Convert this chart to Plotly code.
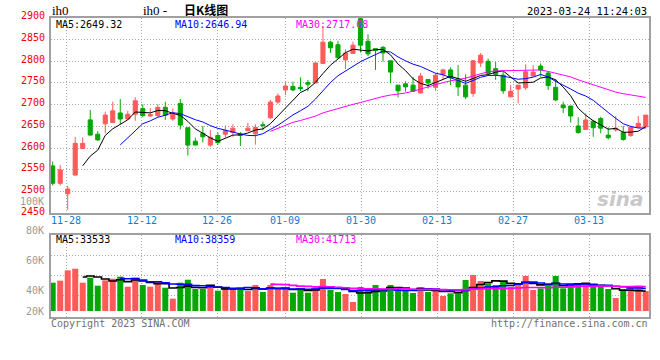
import plotly.graph_objects as go
import pandas as pd

# ---------------- data ----------------
opens = [2559, 2519, 2495, 2538, 2599, 2665, 2632, 2656, 2659, 2681,
         2667, 2678, 2691, 2674, 2675, 2694, 2667, 2703, 2647, 2616,
         2634, 2607, 2629, 2632, 2636, 2633, 2640, 2633, 2654, 2670,
         2706, 2734, 2742, 2740, 2751, 2750, 2795, 2844, 2838, 2803,
         2818, 2898, 2846, 2829, 2832, 2801, 2745, 2748, 2745, 2727,
         2758, 2740, 2770, 2780, 2760, 2745, 2726, 2796, 2800, 2783,
         2768, 2718, 2736, 2739, 2766, 2789, 2773, 2740, 2699, 2697,
         2651, 2643, 2662, 2668, 2630, 2642, 2636, 2629, 2648, 2649]
highs = [2569, 2561, 2513, 2626, 2625, 2688, 2639, 2684, 2707, 2713,
         2686, 2717, 2701, 2692, 2701, 2707, 2691, 2713, 2647, 2624,
         2651, 2642, 2636, 2652, 2655, 2637, 2658, 2655, 2661, 2711,
         2726, 2753, 2753, 2763, 2757, 2797, 2881, 2847, 2847, 2827,
         2845, 2900, 2862, 2829, 2835, 2802, 2745, 2754, 2764, 2773,
         2758, 2772, 2783, 2786, 2791, 2770, 2803, 2819, 2806, 2798,
         2776, 2745, 2745, 2793, 2791, 2795, 2776, 2758, 2707, 2697,
         2671, 2680, 2665, 2672, 2648, 2674, 2651, 2651, 2674, 2676]
lows = [2514, 2514, 2458, 2537, 2599, 2629, 2617, 2634, 2658, 2655,
        2667, 2663, 2671, 2672, 2671, 2665, 2663, 2643, 2583, 2607,
        2613, 2603, 2607, 2625, 2626, 2605, 2640, 2608, 2642, 2667,
        2702, 2722, 2731, 2731, 2731, 2750, 2794, 2819, 2808, 2782,
        2818, 2820, 2812, 2780, 2799, 2749, 2717, 2730, 2731, 2726,
        2737, 2732, 2759, 2745, 2720, 2713, 2718, 2787, 2770, 2757,
        2725, 2717, 2703, 2734, 2766, 2764, 2734, 2708, 2681, 2659,
        2633, 2643, 2626, 2634, 2620, 2638, 2617, 2626, 2648, 2649]
closes = [2519, 2550, 2506, 2611, 2611, 2630, 2619, 2676, 2686, 2667,
          2678, 2709, 2675, 2677, 2694, 2676, 2678, 2653, 2607, 2607,
          2626, 2625, 2613, 2640, 2646, 2629, 2646, 2648, 2652, 2706,
          2720, 2743, 2734, 2737, 2747, 2796, 2844, 2831, 2808, 2819,
          2837, 2837, 2817, 2825, 2819, 2775, 2732, 2741, 2731, 2766,
          2750, 2768, 2780, 2762, 2741, 2718, 2801, 2814, 2772, 2770,
          2732, 2731, 2745, 2776, 2775, 2780, 2744, 2711, 2693, 2674,
          2636, 2665, 2647, 2646, 2624, 2646, 2620, 2648, 2657, 2676]
volumes = [47500, 50900, 68200, 71000, 47500, 55900, 42500, 51400, 54200, 57600,
           40800, 55900, 43600, 40800, 48600, 39100, 20700, 47500, 52500, 36900,
           36900, 40800, 34100, 36900, 36900, 39100, 33500, 43600, 31900, 43600,
           36900, 36900, 30700, 36900, 30700, 41900, 53700, 35200, 31900, 28500,
           15100, 40200, 36900, 43600, 31900, 43600, 40200, 33500, 30200, 40200,
           31900, 36900, 25200, 29600, 29600, 52000, 60400, 50300, 46400, 43600,
           50300, 40800, 46400, 58700, 35200, 38000, 42500, 58700, 38000, 41900,
           46400, 46400, 40800, 40800, 36900, 21800, 35200, 39100, 38000, 33500]

date_labels = ["11-28", "12-12", "12-26", "01-09", "01-30", "02-13", "02-27", "03-13"]
price_ticks = [2450, 2500, 2550, 2600, 2650, 2700, 2750, 2800, 2850, 2900]
vol_tick_labels = ["100K", "80K", "60K", "40K", "20K"]
price_ma_labels = ["MA5:2649.32", "MA10:2646.94", "MA30:2717.08"]
vol_ma_labels = ["MA5:33533", "MA10:38359", "MA30:41713"]
title_code = "ih0"
title_text = "日K线图"
stamp_text = "2023-03-24 11:24:03"

# ---------------- layout helpers ----------------
W, H = 660, 360
def px(x):
    return x / W
def py(y):
    return 1 - y / H

RED = "#ff5a5a"
GREEN = "#04a804"
GRID = "#a8a8a8"
AXIS = "#a0a0a0"
MONO = "DejaVu Sans Mono"
DOT = "1px,2px"
MA_COLORS = ["#000000", "#0000ff", "#ff00ff"]

n = len(closes)
xs = list(range(n))
tick_pos = [1.785, 11.86, 21.93, 30.98, 41.07, 51.23, 61.36, 71.48]
x_range = [-0.226, 79.43]

cs = pd.Series(closes, dtype=float)
vs = pd.Series(volumes, dtype=float)
windows = [5, 10, 30]

fig = go.Figure()

fig.add_trace(go.Candlestick(
    x=xs, open=opens, high=highs, low=lows, close=closes,
    increasing=dict(line=dict(color=RED, width=1), fillcolor=RED),
    decreasing=dict(line=dict(color=GREEN, width=1), fillcolor=GREEN),
    xaxis="x", yaxis="y", showlegend=False, hoverinfo="skip"))

for w, c in zip(windows, MA_COLORS):
    fig.add_trace(go.Scatter(x=xs, y=cs.rolling(w).mean(), mode="lines",
                             line=dict(color=c, width=1), xaxis="x", yaxis="y",
                             showlegend=False, hoverinfo="skip"))

vol_colors = [RED if c > o else GREEN for o, c in zip(opens, closes)]
fig.add_trace(go.Bar(x=xs, y=volumes, marker=dict(color=vol_colors, line=dict(width=0)),
                     width=0.8, xaxis="x2", yaxis="y2", showlegend=False, hoverinfo="skip"))

for w, c in zip(windows, MA_COLORS):
    fig.add_trace(go.Scatter(x=xs, y=vs.rolling(w).mean(), mode="lines",
                             line=dict(color=c, width=1.6, shape="hvh"),
                             xaxis="x2", yaxis="y2", showlegend=False, hoverinfo="skip"))

common_x = dict(range=x_range, tickvals=tick_pos, showgrid=True, gridcolor=GRID,
                griddash=DOT, gridwidth=1, showline=True, linecolor=AXIS, linewidth=2,
                mirror=True, ticks="", zeroline=False, fixedrange=True, showticklabels=False)

fig.update_layout(
    width=W, height=H, margin=dict(l=0, r=0, t=0, b=0),
    paper_bgcolor="white", plot_bgcolor="white",
    showlegend=False, boxgap=0.22, bargap=0.2,
    font=dict(family=MONO, size=10, color="#000"),
    xaxis=dict(domain=[px(51), px(649)], anchor="y",
               rangeslider=dict(visible=False), **common_x),
    yaxis=dict(domain=[py(213.3), py(17.8)], range=[2450, 2900], tickvals=price_ticks,
               showticklabels=False,
               showgrid=True, gridcolor=GRID, griddash=DOT, showline=True, linecolor=AXIS,
               linewidth=2, mirror=True, ticks="", zeroline=False, anchor="x"),
    xaxis2=dict(domain=[px(51), px(649)], anchor="y2", matches="x", **common_x),
    yaxis2=dict(domain=[py(317), py(235)], range=[-10060, 127500],
                tickvals=[26800, 59900, 92700], showticklabels=False,
                showgrid=True, gridcolor=GRID, griddash=DOT, showline=True, linecolor=AXIS,
                linewidth=2, mirror=True, ticks="", zeroline=False, anchor="x2"),
)

ann = []
def text(x, y, s, color="#000", size=10, family=MONO, xanchor="left", **kw):
    ann.append(dict(x=px(x), y=py(y), xref="paper", yref="paper", text=s, showarrow=False,
                    xanchor=xanchor, yanchor="middle",
                    font=dict(family=family, size=size, color=color), **kw))

# price axis labels (red, slightly above their grid lines)
for v in price_ticks:
    ann.append(dict(x=px(47), xref="paper", y=v, yref="y", text=str(v), showarrow=False,
                    xanchor="right", yanchor="middle", yshift=2,
                    font=dict(family=MONO, size=10, color="#ee0000")))
# date labels (blue, centred on their grid lines)
for p, lbl in zip(tick_pos, date_labels):
    ann.append(dict(x=p, xref="x", y=py(220), yref="paper", text=lbl, showarrow=False,
                    xanchor="center", yanchor="middle",
                    font=dict(family=MONO, size=10, color="#0a7fd0")))

# top titles
text(50, 10.5, title_code, size=13, family="Liberation Serif")
text(141, 10.5, title_code + " -", size=13, family="Liberation Serif")
text(182, 9, "<b>" + title_text + "</b>", size=12, family="Noto Sans CJK SC")
text(649, 10.5, stamp_text, size=10.5, xanchor="right")

# MA headers
for lbl, c, xx in zip(price_ma_labels, MA_COLORS, [54, 173, 294]):
    text(xx, 25, lbl, color=c)
for lbl, c, xx in zip(vol_ma_labels, MA_COLORS, [54, 173, 294]):
    text(xx, 239, lbl, color=c)

# volume labels (placed as in the reference)
for lbl, yy in zip(vol_tick_labels, [201, 230.5, 260.5, 290.5, 311]):
    text(46, yy, lbl, color="#9a9a9a", size=10, xanchor="right")

# footer
text(49, 323.5, "Copyright 2023 SINA.COM", color="#707070", size=10)
text(650, 323.5, "http://finance.sina.com.cn", color="#707070", size=10, xanchor="right")

# watermark
text(620, 199, "<i><b>sina</b></i>", color="rgba(175,175,175,0.7)", size=20,
     family="DejaVu Sans", xanchor="center")

fig.update_layout(annotations=ann)
fig.write_html("out.html", config={"displayModeBar": False},
               post_script="document.body.style.margin='0px';document.body.style.overflow='hidden';")
